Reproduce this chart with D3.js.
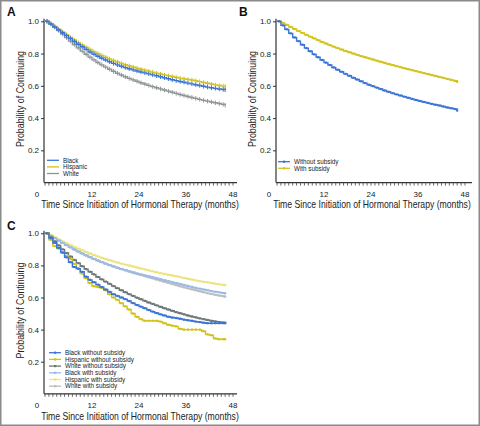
<!DOCTYPE html>
<html><head><meta charset="utf-8">
<script src="https://cdn.jsdelivr.net/npm/d3@7"></script>
<style>body{margin:0;background:#fff}svg{display:block}</style>
</head><body>
<svg id="c" width="480" height="426"></svg>
<script>
const months = [0,1,2,3,4,5,6,7,8,9,10,11,12,13,14,15,16,17,18,19,20,21,22,23,24,25,26,27,28,29,30,31,32,33,34,35,36,37,38,39,40,41,42,43,44,45,46];
const xTicks = [0,12,24,36,48];
const yTicks = [0.2,0.4,0.6,0.8,1.0];

// Panel A
const aBlack = [1,.983,.965,.947,.929,.911,.893,.875,.858,.842,.826,.81,.796,.783,.771,.76,.749,.739,.73,.721,.713,.706,.699,.692,.686,.68,.674,.668,.662,.656,.65,.644,.638,.632,.627,.622,.617,.612,.607,.602,.597,.592,.588,.584,.58,.577,.575];
const aHispanic = [1,.985,.968,.951,.934,.917,.9,.884,.868,.853,.839,.825,.812,.8,.788,.777,.767,.757,.748,.739,.731,.724,.717,.71,.703,.697,.691,.685,.679,.673,.668,.663,.658,.653,.648,.644,.64,.636,.631,.626,.621,.616,.611,.606,.602,.598,.595];
const aWhite = [1,.985,.965,.943,.921,.899,.877,.856,.835,.815,.796,.778,.761,.745,.73,.716,.703,.69,.678,.667,.656,.646,.637,.628,.619,.611,.603,.595,.588,.581,.574,.567,.56,.553,.546,.54,.534,.528,.522,.516,.51,.505,.5,.495,.49,.485,.48];

// Panel B
const bWithout = [1,.975,.95,.925,.9,.877,.855,.834,.814,.795,.777,.76,.744,.729,.714,.7,.687,.674,.662,.65,.639,.628,.617,.607,.598,.589,.58,.571,.563,.555,.547,.54,.533,.526,.519,.512,.506,.5,.494,.488,.483,.478,.472,.466,.461,.456,.447];
const bWith = [1,.99,.978,.965,.952,.94,.928,.916,.905,.894,.883,.872,.862,.852,.843,.834,.825,.816,.808,.8,.792,.784,.777,.77,.763,.756,.749,.742,.735,.729,.722,.716,.709,.703,.697,.691,.685,.679,.673,.667,.661,.655,.649,.643,.637,.631,.625];

// Panel C
const cBlackWithout = [1,.97,.94,.91,.88,.85,.82,.79,.78,.76,.73,.71,.695,.68,.665,.65,.635,.62,.61,.6,.59,.578,.565,.553,.543,.533,.522,.512,.503,.495,.488,.48,.475,.472,.468,.462,.458,.455,.45,.447,.443,.44,.44,.44,.44,.44,.44];
const cHispanicWithout = [1,.96,.92,.905,.88,.86,.84,.81,.78,.75,.72,.69,.67,.665,.66,.645,.62,.6,.585,.565,.545,.525,.5,.48,.465,.455,.455,.455,.455,.45,.44,.43,.425,.42,.405,.4,.4,.4,.4,.4,.39,.37,.365,.345,.34,.34,.34];
const cWhiteWithout = [1,.975,.95,.925,.9,.877,.855,.834,.814,.795,.777,.76,.744,.728,.713,.699,.685,.671,.658,.645,.633,.621,.61,.599,.589,.579,.569,.56,.551,.542,.533,.525,.517,.509,.502,.495,.488,.482,.476,.47,.465,.46,.455,.451,.447,.444,.442];
const cBlackWith = [1,.985,.97,.955,.94,.926,.912,.899,.886,.874,.862,.851,.84,.83,.82,.811,.802,.794,.786,.778,.771,.764,.757,.75,.744,.738,.732,.726,.72,.714,.708,.702,.696,.69,.684,.678,.672,.666,.66,.655,.65,.645,.64,.636,.632,.628,.626];
const cHispanicWith = [1,.99,.975,.962,.95,.938,.926,.915,.904,.894,.884,.874,.865,.856,.848,.84,.832,.825,.818,.811,.805,.799,.793,.787,.781,.775,.769,.763,.757,.752,.747,.742,.737,.732,.727,.722,.717,.712,.707,.702,.698,.694,.69,.686,.682,.679,.677];
const cWhiteWith = [1,.985,.97,.955,.941,.927,.913,.9,.887,.875,.863,.852,.841,.831,.821,.811,.802,.793,.785,.777,.769,.761,.754,.747,.74,.733,.726,.719,.712,.705,.698,.691,.684,.677,.67,.663,.657,.651,.645,.639,.633,.627,.622,.617,.612,.608,.605];

const BLUE = "#3a74d6", YEL = "#d2c21c", GRAY = "#8e9494", DGRAY = "#6b7676",
      LBLUE = "#9bb9e4", LYEL = "#ebe47e", LGRAY = "#b9bdc0";

const panels = [
  {label:"A", lx:7, ly:16, x0:45, x1:233, yTop:21.3, yBot:182.6, axEnd:237, mark:"plus",
   series:[{name:"Black",v:aBlack,c:BLUE},{name:"Hispanic",v:aHispanic,c:YEL},{name:"White",v:aWhite,c:GRAY}],
   legX:47, legY:160.3, legDy:6.6, legMarker:false, title:{cx:140, y:208, w:198}},
  {label:"B", lx:239, ly:16, x0:277, x1:465, yTop:21.3, yBot:182.6, axEnd:472, mark:"dot",
   series:[{name:"Without subsidy",v:bWithout,c:BLUE},{name:"With subsidy",v:bWith,c:YEL}],
   legX:278, legY:161.7, legDy:6.6, legMarker:true, title:{cx:372, y:208, w:198}},
  {label:"C", lx:7, ly:230, x0:45, x1:233, yTop:233.3, yBot:393.8, axEnd:237, mark:"dot",
   series:[{name:"Black without subsidy",v:cBlackWithout,c:BLUE},{name:"Hispanic without subsidy",v:cHispanicWithout,c:YEL},
           {name:"White without subsidy",v:cWhiteWithout,c:DGRAY},{name:"Black with subsidy",v:cBlackWith,c:LBLUE},
           {name:"Hispanic with subsidy",v:cHispanicWith,c:LYEL},{name:"White with subsidy",v:cWhiteWith,c:LGRAY}],
   legX:49, legY:352.7, legDy:6.7, legMarker:true, title:{cx:140, y:420, w:198}}
];

const svg = d3.select("#c");
svg.append("rect").attr("x",0.75).attr("y",0.75).attr("width",478.5).attr("height",424.5)
  .attr("fill","#fff").attr("stroke","#8a8a8a").attr("stroke-width",1.5);

const FONT = "Liberation Sans, Arial, sans-serif";

// horizontally-squeezed text fitted to a target width
function fitText(g, txt, cx, cy, w, rotate) {
  const t = g.append("text").attr("text-anchor","middle")
    .attr("font-family",FONT).attr("font-size",10.5).attr("fill","#222").text(txt);
  const nat = t.node().getComputedTextLength();
  const s = w / nat;
  if (rotate) t.attr("transform",`translate(${cx},${cy}) rotate(-90) scale(${s},1)`);
  else t.attr("transform",`translate(${cx},${cy}) scale(${s},1)`);
  return t;
}

panels.forEach(p => {
  const g = svg.append("g");
  const x = d3.scaleLinear().domain([0,48]).range([p.x0,p.x1]);
  const y = d3.scaleLinear().domain([0,1]).range([p.yBot,p.yTop]);
  const axX = p.x0 - 1;

  g.append("text").attr("x",p.lx).attr("y",p.ly).text(p.label)
    .attr("font-family",FONT).attr("font-weight","bold").attr("font-size",12).attr("fill","#111");

  // y axis
  const yAx = g.append("g").attr("transform",`translate(${axX},0)`)
    .call(d3.axisLeft(y).tickValues(yTicks).tickFormat(d3.format(".1f")).tickSize(3).tickPadding(2));
  yAx.select(".domain").attr("d",`M0,${p.yTop-2.5}V${p.yBot}`).attr("stroke","#333").attr("stroke-width",1.2);
  yAx.selectAll("line").attr("stroke","#333");
  yAx.selectAll("text").attr("font-family",FONT).attr("font-size",8).attr("fill","#222");

  // x axis with monthly ticks
  const xAx = g.append("g").attr("transform",`translate(0,${p.yBot})`);
  xAx.append("path").attr("d",`M${axX},0H${p.axEnd}`).attr("stroke","#333").attr("stroke-width",1.2).attr("fill","none");
  const monthTicks = d3.range(0,49);
  xAx.selectAll("line.t").data(monthTicks).join("line").attr("class","t")
    .attr("x1",d=>x(d)).attr("x2",d=>x(d)).attr("y1",0).attr("y2",3).attr("stroke","#444").attr("stroke-width",0.8);
  xAx.selectAll("text").data(xTicks).join("text")
    .attr("x",d=> d===0 ? x(d)-8 : x(d)).attr("y",14).attr("text-anchor","middle")
    .attr("font-family",FONT).attr("font-size",8).attr("fill","#222").text(d=>d);

  // titles
  fitText(g, "Time Since Initiation of Hormonal Therapy (months)", p.title.cx, p.title.y, p.title.w, false);
  const ymid = (p.yTop + p.yBot)/2 - 3;
  fitText(g, "Probability of Continuing", axX-20, ymid, 96, true);

  // curves
  const line = d3.line().x((d,i)=>x(months[i])).y(d=>y(d)).curve(d3.curveStepAfter);
  const order = p.series.slice().reverse();
  order.forEach(s => {
    g.append("path").datum(s.v).attr("d",line).attr("fill","none").attr("stroke",s.c).attr("stroke-width",1.4);
    const mk = s.v.map((v,i)=>({m: i < s.v.length-1 ? months[i]+0.5 : months[i], v}));
    if (p.mark === "plus") {
      g.selectAll(null).data(mk).join("line")
        .attr("x1",d=>x(d.m)).attr("x2",d=>x(d.m)).attr("y1",d=>y(d.v)-2.2).attr("y2",d=>y(d.v)+2.2)
        .attr("stroke",s.c).attr("stroke-width",1);
    } else {
      g.selectAll(null).data(mk).join("rect")
        .attr("x",d=>x(d.m)-1.1).attr("y",d=>y(d.v)-1.1).attr("width",2.2).attr("height",2.2).attr("fill",s.c);
    }
  });

  // legend
  p.series.forEach((s,i) => {
    const ly = p.legY + i*p.legDy;
    g.append("line").attr("x1",p.legX).attr("x2",p.legX+12).attr("y1",ly).attr("y2",ly)
      .attr("stroke",s.c).attr("stroke-width",1.3);
    if (p.legMarker) g.append("rect").attr("x",p.legX+5).attr("y",ly-1.1).attr("width",2.2).attr("height",2.2).attr("fill",s.c);
    g.append("text").attr("x",p.legX+16).attr("y",ly+2.2).attr("font-family",FONT).attr("font-size",6.3)
      .attr("fill","#222").text(s.name);
  });
});
</script>
</body></html>
